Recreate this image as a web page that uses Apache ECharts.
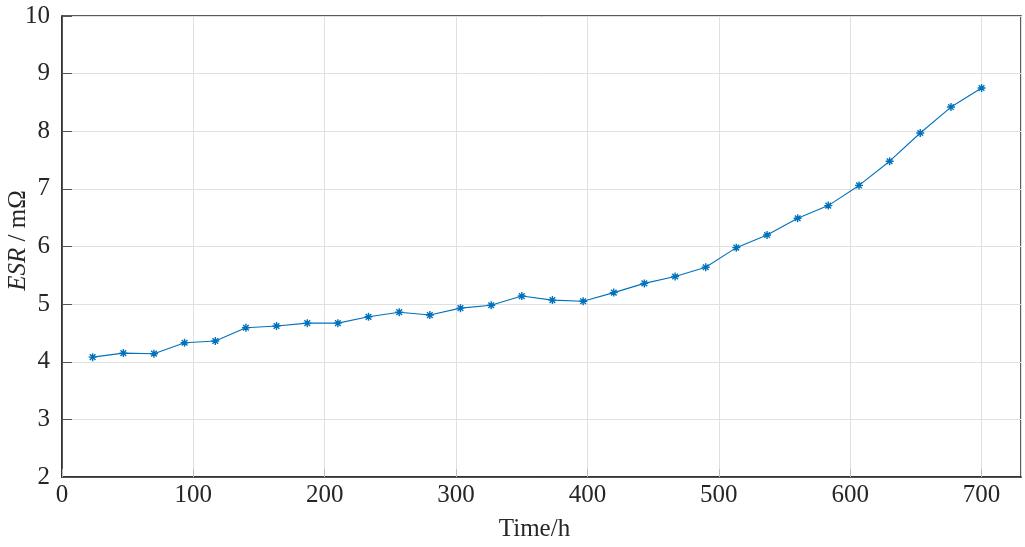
<!DOCTYPE html>
<html>
<head>
<meta charset="utf-8">
<script src="https://cdn.jsdelivr.net/npm/echarts@6/dist/echarts.min.js"></script>
<style>
html,body{margin:0;padding:0;background:#fff;}
#chart{width:1025px;height:547px;}
</style>
</head>
<body>
<div id="chart"></div>
<script>
var timeHours = [23.3, 46.7, 70, 93.3, 116.7, 140, 163.3, 186.7, 210, 233.3, 256.7, 280, 303.3, 326.7, 350, 373.3, 396.7, 420, 443.3, 466.7, 490, 513.3, 536.7, 560, 583.3, 606.7, 630, 653.3, 676.7, 700];
var esrValues = [4.08, 4.15, 4.14, 4.33, 4.36, 4.59, 4.62, 4.67, 4.67, 4.78, 4.86, 4.81, 4.93, 4.98, 5.14, 5.07, 5.05, 5.20, 5.36, 5.48, 5.64, 5.98, 6.20, 6.49, 6.71, 7.06, 7.48, 7.97, 8.42, 8.75];
var xTicks = [0, 100, 200, 300, 400, 500, 600, 700];
var yTicks = [2, 3, 4, 5, 6, 7, 8, 9, 10];

var chart = echarts.init(document.getElementById('chart'), null, {renderer: 'canvas'});
var font = '"Liberation Serif", "DejaVu Serif", serif';
var pts = timeHours.map(function (t, i) { return [t, esrValues[i]]; });

chart.setOption({
  animation: false,
  backgroundColor: '#ffffff',
  grid: {
    left: 62, right: 4, top: 16, bottom: 70,
    containLabel: false, outerBoundsMode: 'none',
    show: true, borderColor: '#262626', borderWidth: 1.5, backgroundColor: 'transparent'
  },
  xAxis: {
    type: 'value', min: 0, max: 730, interval: 100,
    name: 'Time/h', nameLocation: 'middle', nameGap: 40, nameMoveOverlap: false,
    nameTextStyle: {fontFamily: font, fontSize: 25, color: '#262626', padding: [0, 14, 0, 0]},
    axisLine: {show: true, lineStyle: {color: '#262626', width: 1.5}},
    axisTick: {show: true, inside: true, length: 8, lineStyle: {color: '#bdbdbd'}},
    axisLabel: {
      fontFamily: font, fontSize: 25, color: '#262626', margin: 6, showMaxLabel: false,
      formatter: function (v) { return xTicks.indexOf(v) >= 0 ? String(v) : ''; }
    },
    splitLine: {show: true, lineStyle: {color: '#e0e0e0', width: 1}}
  },
  yAxis: {
    type: 'value', min: yTicks[0], max: yTicks[yTicks.length - 1], interval: 1,
    name: '{i|ESR} / mΩ', nameLocation: 'middle', nameGap: 31, nameRotate: 90, nameMoveOverlap: false,
    nameTextStyle: {
      fontFamily: font, fontSize: 25, color: '#262626', padding: [0, 0, 0, 12],
      rich: {i: {fontFamily: font, fontSize: 25, fontStyle: 'italic', color: '#262626'}}
    },
    axisLine: {show: true, lineStyle: {color: '#262626', width: 1.5}},
    axisTick: {show: true, inside: true, length: 10, lineStyle: {color: '#555555'}},
    axisLabel: {fontFamily: font, fontSize: 25, color: '#262626', margin: 12},
    splitLine: {show: true, lineStyle: {color: '#e0e0e0', width: 1}}
  },
  series: [{
    type: 'line',
    data: pts,
    symbol: 'path://M0,-5L0,5M-5,0L5,0M-3.54,-3.54L3.54,3.54M-3.54,3.54L3.54,-3.54',
    symbolSize: 8,
    showAllSymbol: true,
    lineStyle: {color: '#0072BD', width: 1.1},
    itemStyle: {color: 'rgba(0,0,0,0)', borderColor: '#0072BD', borderWidth: 1.4},
    emphasis: {disabled: true}
  }]
});
</script>
</body>
</html>
